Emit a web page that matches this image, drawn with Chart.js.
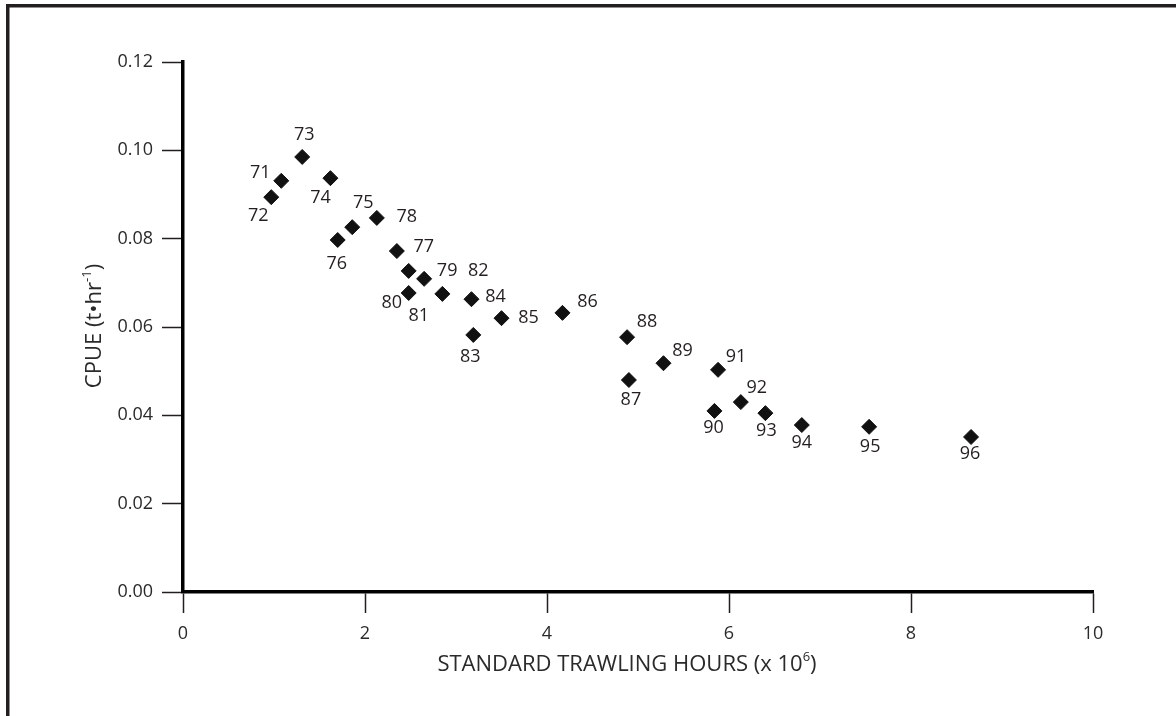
<!DOCTYPE html>
<html>
<head>
<meta charset="utf-8">
<script src="https://cdn.jsdelivr.net/npm/chart.js@4.4.1/dist/chart.umd.min.js"></script>
<style>
  html, body { margin: 0; padding: 0; background: #fff; }
  canvas { display: block; }
</style>
</head>
<body>
<canvas id="cpue" width="1176" height="716"></canvas>
<script>
// Fishing years and their effort / catch-rate values
const years = ['71', '72', '73', '74', '75', '76', '77', '78', '79', '80', '81', '82', '83',
  '84', '85', '86', '87', '88', '89', '90', '91', '92', '93', '94', '95', '96'];
const trawlHours = [1.08, 0.97, 1.31, 1.62, 1.86, 1.70, 2.35, 2.13, 2.65, 2.48, 2.48, 2.85, 3.19,
  3.17, 3.50, 4.17, 4.90, 4.88, 5.28, 5.84, 5.88, 6.13, 6.40, 6.80, 7.54, 8.66];
const cpue = [0.0931, 0.0894, 0.0985, 0.0937, 0.0826, 0.0797, 0.0772, 0.0847, 0.0709, 0.0727, 0.0677, 0.0675, 0.0582,
  0.0663, 0.0620, 0.0632, 0.0480, 0.0577, 0.0518, 0.0410, 0.0503, 0.0430, 0.0405, 0.0378, 0.0374, 0.0351];

// Axis ranges
const xTicks = [0, 2, 4, 6, 8, 10];
const yTicks = [0, 0.02, 0.04, 0.06, 0.08, 0.10, 0.12];

// Where each year label sits relative to its marker (px)
const labelOffsets = [
  [-21, -8], [-13, 19], [2, -22], [-10, 20], [11, -24], [-1, 24], [27, -4], [30, -1],
  [23, -8], [-17, 32], [10, 23], [36, -23], [-3, 22], [24, -2], [27, 0], [25, -11],
  [2, 20], [20, -15], [19, -12], [-1, 17], [18, -13], [16, -14], [1, 18], [0, 18], [1, 20], [-1, 17]
];

const FONT = '"Open Sans", "DejaVu Sans", sans-serif';
const INK = '#231f20';

// Text with a raised part, e.g. 10^6
function drawRich(ctx, parts, x, y, size) {
  const fontFor = p => (p.sup ? Math.round(size * 0.6) : size) + 'px ' + FONT;
  let total = 0;
  parts.forEach(p => { ctx.font = fontFor(p); total += ctx.measureText(p.t).width; });
  let cx = x - total / 2;
  ctx.textAlign = 'left';
  ctx.textBaseline = 'middle';
  parts.forEach(p => {
    ctx.font = fontFor(p);
    ctx.fillText(p.t, cx, p.sup ? y - size * 0.36 : y);
    cx += ctx.measureText(p.t).width;
  });
}

const decorations = {
  id: 'decorations',
  afterDraw(chart) {
    const ctx = chart.ctx;
    ctx.save();

    // page frame (left and top edges)
    ctx.fillStyle = INK;
    ctx.fillRect(6, 4, 3.5, 716);
    ctx.fillRect(6, 4, 1170, 3.5);

    // year labels next to the markers
    ctx.fillStyle = INK;
    ctx.font = '18px ' + FONT;
    ctx.textAlign = 'center';
    ctx.textBaseline = 'middle';
    const pts = chart.getDatasetMeta(0).data;
    pts.forEach((pt, i) => {
      const off = labelOffsets[i];
      ctx.fillText(years[i], pt.x + off[0], pt.y + off[1]);
    });

    // axis titles
    ctx.fillStyle = '#2a2a2a';
    drawRich(ctx, [{ t: 'STANDARD TRAWLING HOURS (x 10' }, { t: '6', sup: true }, { t: ')' }],
      627, 665, 22);

    ctx.translate(95, 326);
    ctx.rotate(-Math.PI / 2);
    drawRich(ctx, [{ t: 'CPUE (t\u2022hr' }, { t: '-1', sup: true }, { t: ')' }], 0, 0, 22);

    ctx.restore();
  }
};

new Chart(document.getElementById('cpue'), {
  type: 'scatter',
  data: {
    datasets: [{
      data: trawlHours.map((x, i) => ({ x: x, y: cpue[i] })),
      pointStyle: 'rectRot',
      pointRadius: 7.5,
      pointBorderWidth: 1,
      backgroundColor: '#111',
      borderColor: '#111'
    }]
  },
  plugins: [decorations],
  options: {
    responsive: false,
    animation: false,
    devicePixelRatio: 1,
    layout: { padding: { left: 0, top: 62, right: 83, bottom: 0 } },
    plugins: {
      legend: { display: false },
      tooltip: { enabled: false }
    },
    scales: {
      x: {
        type: 'linear',
        min: xTicks[0],
        max: xTicks[xTicks.length - 1],
        afterBuildTicks: s => { s.ticks = xTicks.map(v => ({ value: v })); },
        afterFit: s => { s.height = 124; },
        border: { display: true, width: 3.5, color: '#000' },
        grid: { drawOnChartArea: false, drawTicks: true, tickLength: 21, tickWidth: 1.5, tickColor: INK },
        ticks: {
          padding: 10,
          color: '#2a2a2a',
          font: { family: FONT, size: 18 },
          callback: v => String(v)
        }
      },
      y: {
        type: 'linear',
        min: yTicks[0],
        max: yTicks[yTicks.length - 1],
        afterBuildTicks: s => { s.ticks = yTicks.map(v => ({ value: v })); },
        afterFit: s => { s.width = 183; },
        border: { display: true, width: 3.5, color: '#000' },
        grid: { drawOnChartArea: false, drawTicks: true, tickLength: 21, tickWidth: 1.5, tickColor: INK },
        ticks: {
          padding: 9,
          color: '#2a2a2a',
          font: { family: FONT, size: 18 },
          callback: v => v.toFixed(2)
        }
      }
    }
  }
});
</script>
</body>
</html>
